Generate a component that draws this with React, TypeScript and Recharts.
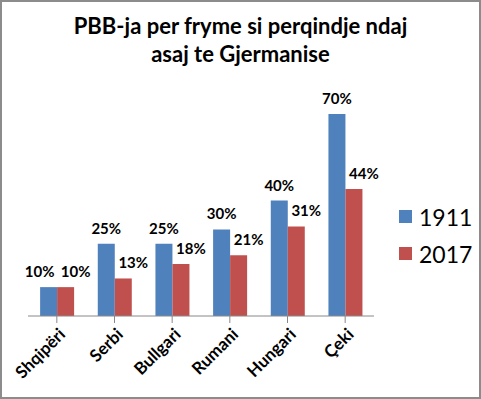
import { BarChart, Bar, XAxis, YAxis, LabelList } from 'recharts';

const countries = ['Shqipëri', 'Serbi', 'Bullgari', 'Rumani', 'Hungari', 'Çeki'];
const values1911 = [10, 25, 25, 30, 40, 70];
const values2017 = [10, 13, 18, 21, 31, 44];

const COLORS = { y1911: '#4f81bd', y2017: '#c0504d' };
const FONT = 'Lato, "Open Sans", sans-serif';

const data = countries.map((name, i) => ({ name, y1911: values1911[i], y2017: values2017[i] }));

const makeLabel = (series: 'y1911' | 'y2017') => (props: any) => {
  const { x, y, width, value, index } = props;
  let dx = 0;
  if (series === 'y2017') dx = 10;
  if (series === 'y1911' && index === 0) dx = -9;
  return (
    <text
      x={x + width / 2 + dx}
      y={y - 10}
      textAnchor="middle"
      fontFamily={FONT}
      fontWeight="bold"
      fontSize={15}
      fill="#000"
    >
      {`${value}%`}
    </text>
  );
};

const AngledTick = (props: any) => {
  const { x, y, payload } = props;
  return (
    <g transform={`translate(${x + 6},${y + 7})`}>
      <text
        transform="rotate(-45)"
        textAnchor="end"
        dy={5}
        fontFamily={FONT}
        fontWeight="bold"
        fontSize={17}
        fill="#000"
      >
        {payload.value}
      </text>
    </g>
  );
};

const legendItems = [
  { label: '1911', color: COLORS.y1911 },
  { label: '2017', color: COLORS.y2017 },
];

export default function App() {
  return (
    <div
      style={{
        position: 'absolute',
        left: 0,
        top: 0,
        width: 481,
        height: 399,
        boxSizing: 'border-box',
        border: '2px solid #8c8c8c',
        background: '#fff',
      }}
    >
      <div
        style={{
          position: 'absolute',
          left: 0,
          top: 10,
          width: 477,
          textAlign: 'center',
          fontFamily: FONT,
          fontWeight: 'bold',
          fontSize: 22,
          lineHeight: '28px',
        }}
      >
        PBB-ja per fryme si perqindje ndaj
        <br />
        asaj te Gjermanise
      </div>
      <div style={{ position: 'absolute', left: 397, top: 196, fontFamily: FONT, fontSize: 23 }}>
        {legendItems.map((item) => (
          <div key={item.label} style={{ display: 'flex', alignItems: 'center', height: 37 }}>
            <span style={{ width: 13, height: 13, background: item.color, marginRight: 7, display: 'inline-block' }} />
            <span>{item.label}</span>
          </div>
        ))}
      </div>
      <BarChart
        width={477}
        height={395}
        data={data}
        margin={{ top: 83, right: 105, bottom: 11, left: 26 }}
        barCategoryGap="21%"
        barGap={0}
      >
        <XAxis
          dataKey="name"
          tick={<AngledTick />}
          height={70}
          interval={0}
          stroke="#888"
          tickSize={7}
          axisLine={{ stroke: '#888' }}
          tickLine={{ stroke: '#888' }}
        />
        <YAxis hide domain={[0, 80]} />
        <Bar dataKey="y1911" fill={COLORS.y1911} isAnimationActive={false}>
          <LabelList dataKey="y1911" content={makeLabel('y1911')} />
        </Bar>
        <Bar dataKey="y2017" fill={COLORS.y2017} isAnimationActive={false}>
          <LabelList dataKey="y2017" content={makeLabel('y2017')} />
        </Bar>
      </BarChart>
    </div>
  );
}
